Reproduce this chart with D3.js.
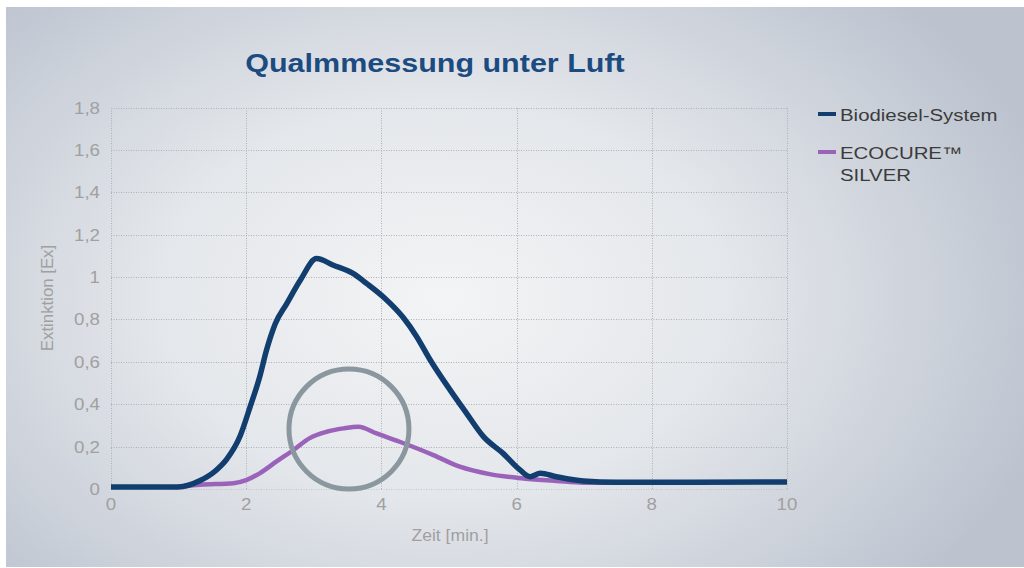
<!DOCTYPE html>
<html>
<head>
<meta charset="utf-8">
<script src="https://cdn.jsdelivr.net/npm/d3@7"></script>
<style>
  html, body { margin: 0; padding: 0; background: #fff; }
  svg { display: block; }
</style>
</head>
<body>
<svg id="chart" width="1024" height="568"></svg>
<script>
// data
const biodieselX = [0, 0.5, 0.99, 1.32, 1.56, 1.71, 1.91, 2.06, 2.2, 2.3, 2.43, 2.6, 2.8, 3.04, 3.29, 3.58, 3.78, 4.05, 4.32, 4.52, 4.72, 5.01, 5.26, 5.51, 5.8, 6.05, 6.2, 6.35, 6.59, 6.99, 7.48, 8.5, 10];
const biodieselY = [0.01, 0.01, 0.01, 0.04, 0.09, 0.14, 0.25, 0.39, 0.53, 0.655, 0.78, 0.875, 0.985, 1.087, 1.056, 1.017, 0.97, 0.9, 0.81, 0.72, 0.61, 0.47, 0.357, 0.247, 0.168, 0.09, 0.058, 0.074, 0.058, 0.038, 0.032, 0.032, 0.033];

const ecocureX = [0.99, 1.32, 1.81, 2.0, 2.2, 2.45, 2.7, 2.94, 3.19, 3.44, 3.66, 3.93, 4.27, 4.77, 5.16, 5.6, 6.1, 6.59, 6.99, 7.5];
const ecocureY = [0.01, 0.02, 0.027, 0.042, 0.074, 0.13, 0.184, 0.24, 0.27, 0.286, 0.294, 0.262, 0.223, 0.16, 0.105, 0.07, 0.05, 0.038, 0.03, 0.03];

const xTicks = [0, 2, 4, 6, 8, 10];
const yTicks = [0, 0.2, 0.4, 0.6, 0.8, 1, 1.2, 1.4, 1.6, 1.8];
const seriesNames = ["Biodiesel-System", "ECOCURE\u2122|SILVER"];
const seriesColors = ["#113e6f", "#9a63b9"];
// highlight circle: center and radius in data units
const highlight = { x: 3.52, y: 0.283, r: 0.283 };

const svg = d3.select("#chart");

const xScale = d3.scaleLinear().domain([0, 10]).range([111, 787]);
const yScale = d3.scaleLinear().domain([0, 1.8]).range([489, 107.5]);

// background with radial shading
const defs = svg.append("defs");
const grad = defs.append("radialGradient")
    .attr("id", "bg")
    .attr("cx", "43%").attr("cy", "52%").attr("r", "62%")
    .attr("gradientTransform", "translate(0.43,0.52) scale(1,1.25) translate(-0.43,-0.52)");
grad.append("stop").attr("offset", "0%").attr("stop-color", "#f3f4f5");
grad.append("stop").attr("offset", "45%").attr("stop-color", "#e4e7eb");
grad.append("stop").attr("offset", "100%").attr("stop-color", "#bcc3cf");

svg.append("rect")
    .attr("x", 6).attr("y", 7)
    .attr("width", 1018).attr("height", 560)
    .attr("fill", "url(#bg)");

// text helper: the picture is a little stretched sideways
function label(x, y, txt, opts) {
    const o = Object.assign({ size: 16, color: "#a0a0a0", anchor: "start", sx: 1.18, weight: "normal", rotate: 0 }, opts);
    return svg.append("text")
        .attr("transform", `translate(${x},${y}) rotate(${o.rotate}) scale(${o.sx},1)`)
        .attr("text-anchor", o.anchor)
        .attr("font-family", "'Liberation Sans', Arial, sans-serif")
        .attr("font-size", o.size)
        .attr("font-weight", o.weight)
        .attr("fill", o.color)
        .text(txt);
}

// grid
const grid = svg.append("g")
    .attr("stroke", "#aeb1b6")
    .attr("stroke-width", 1)
    .attr("stroke-dasharray", "1,1.5");

grid.selectAll("line.h")
    .data(yTicks)
    .enter()
    .append("line")
    .attr("x1", xScale(0))
    .attr("x2", xScale(10))
    .attr("y1", d => Math.round(yScale(d)) + 0.5)
    .attr("y2", d => Math.round(yScale(d)) + 0.5)
    .attr("stroke-opacity", d => d === 0 ? 0.6 : 1);

grid.selectAll("line.v")
    .data(xTicks)
    .enter()
    .append("line")
    .attr("x1", d => Math.round(xScale(d)) + 0.5)
    .attr("x2", d => Math.round(xScale(d)) + 0.5)
    .attr("y1", yScale(0))
    .attr("y2", yScale(1.8));

// tick labels
const fmt = d => String(d).replace(".", ",");
yTicks.forEach(d => label(100, yScale(d) + 6, fmt(d), { anchor: "end", size: 17, sx: 1.1 }));
xTicks.forEach(d => label(xScale(d), 510, fmt(d), { anchor: "middle", size: 17, sx: 1.1 }));

// axis titles
label(53, 298, "Extinktion [Ex]", { anchor: "middle", size: 16, rotate: -90, sx: 1.05 });
label(450, 541, "Zeit [min.]", { anchor: "middle", size: 16, sx: 1.1 });

// title
label(435, 72, "Qualmmessung unter Luft", { anchor: "middle", size: 25, sx: 1.22, weight: "bold", color: "#1c4b80" });

// lines
const line = d3.line()
    .x(d => xScale(d[0]))
    .y(d => yScale(d[1]))
    .curve(d3.curveMonotoneX);

svg.append("path")
    .datum(d3.zip(ecocureX, ecocureY))
    .attr("fill", "none")
    .attr("stroke", seriesColors[1])
    .attr("stroke-width", 4.5)
    .attr("stroke-linejoin", "round")
    .attr("stroke-linecap", "round")
    .attr("d", line);

svg.append("path")
    .datum(d3.zip(biodieselX, biodieselY))
    .attr("fill", "none")
    .attr("stroke", seriesColors[0])
    .attr("stroke-width", 5.5)
    .attr("stroke-linejoin", "round")
    .attr("d", line);

// highlight circle
svg.append("circle")
    .attr("cx", xScale(highlight.x))
    .attr("cy", yScale(highlight.y))
    .attr("r", yScale(0) - yScale(highlight.r))
    .attr("fill", "none")
    .attr("stroke", "#8a979f")
    .attr("stroke-width", 5);

// legend
const legendY = [114, 152];
seriesNames.forEach((name, i) => {
    svg.append("line")
        .attr("x1", 818).attr("x2", 836)
        .attr("y1", legendY[i]).attr("y2", legendY[i])
        .attr("stroke", seriesColors[i])
        .attr("stroke-width", 4);
    name.split("|").forEach((part, j) => {
        label(840, legendY[i] + 7 + j * 22, part, { size: 17, sx: 1.2, color: "#3b3b3b" });
    });
});
</script>
</body>
</html>
